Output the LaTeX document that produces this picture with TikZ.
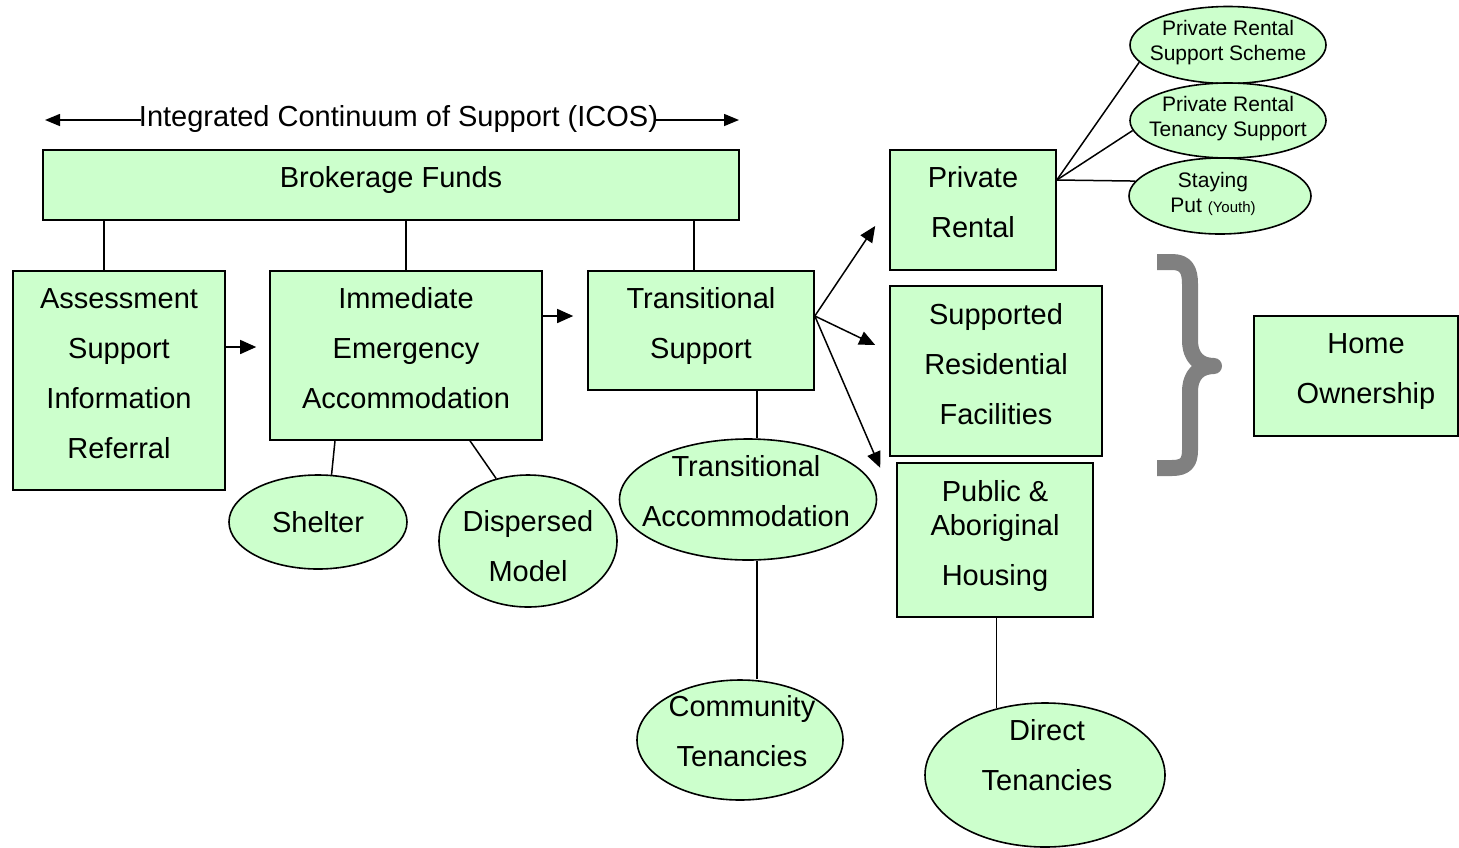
\documentclass[tikz,border=0pt]{standalone}
\usepackage{fontspec}
\setmainfont{Liberation Sans}
\usetikzlibrary{arrows.meta,shapes.geometric,calc}
\definecolor{boxgreen}{RGB}{204,255,204}
\definecolor{bracegray}{RGB}{128,128,128}
\begin{document}
\begin{tikzpicture}[x=1pt,y=-1pt,
  box/.style={draw, fill=boxgreen, line width=1.6pt, rectangle, inner sep=0pt},
  oval/.style={draw, fill=boxgreen, line width=1.6pt, ellipse, inner sep=0pt},
  txt/.style={font=\fontsize{29}{50}\selectfont, align=center, inner sep=0pt},
  smalltxt/.style={font=\fontsize{21}{25}\selectfont, align=center, inner sep=0pt},
  link/.style={line width=1.5pt},
  flow/.style={line width=1.5pt, -{Triangle[length=16pt,width=14pt]}},
]
\useasboundingbox (0,0) rectangle (1459,847);

% heading arrow spanning the continuum, with its title laid over it
\coordinate (icosL) at (45,120);
\coordinate (icosR) at (739,120);
\draw[line width=1.5pt, {Triangle[length=15pt,width=12pt]}-{Triangle[length=15pt,width=12pt]}] (icosL) -- (icosR);
\node[txt, fill=white, inner xsep=-2.5pt, inner ysep=2pt] (icos) at (398.5,119) {Integrated Continuum of Support (ICOS)};

% rectangular stages
\node[box, minimum width=696pt, minimum height=70pt,
      label={[txt,yshift=5pt]center:Brokerage Funds}] (broker) at (391,185) {};
\node[box, minimum width=212pt, minimum height=219pt,
      label={[txt,yshift=6.5pt]center:{Assessment\\Support\\Information\\Referral}}] (assess) at (119,380.5) {};
\node[box, minimum width=272pt, minimum height=169pt,
      label={[txt,yshift=7.5pt]center:{Immediate\\Emergency\\Accommodation}}] (imm) at (406,355.5) {};
\node[box, minimum width=226pt, minimum height=119pt,
      label={[txt,yshift=4.5pt]center:{Transitional\\Support}}] (ts) at (701,330.5) {};
\node[box, minimum width=166pt, minimum height=120pt,
      label={[txt,yshift=8pt]center:{Private\\Rental}}] (pr) at (973,210) {};
\node[box, minimum width=212pt, minimum height=170pt,
      label={[txt,yshift=7pt]center:{Supported\\Residential\\Facilities}}] (sr) at (996,371) {};
\node[box, minimum width=196pt, minimum height=154pt,
      label={[txt,yshift=4pt]center:{Public \&\\[-16pt]Aboriginal\\Housing}}] (pub) at (995,540) {};
\node[box, minimum width=204pt, minimum height=120pt,
      label={[txt,yshift=4pt,xshift=10pt]center:{Home\\Ownership}}] (home) at (1356,376) {};

% oval services
\node[oval, minimum width=178pt, minimum height=94pt,
      label={[txt]center:Shelter}] (shelter) at (318,522) {};
\node[oval, minimum width=178pt, minimum height=132pt,
      label={[txt,yshift=-5.5pt]center:{Dispersed\\Model}}] (disp) at (528,541) {};
\node[oval, minimum width=257pt, minimum height=121pt,
      label={[txt,yshift=8pt,xshift=-2pt]center:{Transitional\\Accommodation}}] (ta) at (748,499.5) {};
\node[oval, minimum width=206pt, minimum height=120pt,
      label={[txt,yshift=9pt,xshift=2pt]center:{Community\\Tenancies}}] (ct) at (740,740) {};
\node[oval, minimum width=240pt, minimum height=144pt,
      label={[txt,yshift=20pt,xshift=2pt]center:{Direct\\Tenancies}}] (dt) at (1045,775) {};
\node[oval, minimum width=196pt, minimum height=77pt,
      label={[smalltxt,yshift=2pt]center:{Private Rental\\Support Scheme}}] (prss) at (1228,45) {};
\node[oval, minimum width=196pt, minimum height=75pt,
      label={[smalltxt,yshift=2pt]center:{Private Rental\\Tenancy Support}}] (prts) at (1228,120.5) {};
\node[oval, minimum width=182pt, minimum height=76pt,
      label={[smalltxt,yshift=2pt,xshift=-7pt]center:{Staying\\Put {\fontsize{15}{18}\selectfont(Youth)}}}] (sp) at (1220,196) {};

% funding drops
\draw[link] ($(assess.north)+(-15,0)$) -- ($(assess.north |- broker.south)+(-15,0)$);
\draw[link] (imm.north) -- (imm.north |- broker.south);
\draw[link] ($(ts.north)+(-7,0)$) -- ($(ts.north |- broker.south)+(-7,0)$);

% pathway arrows
\draw[flow] ($(assess.east)+(0,-33.5)$) -- ($(imm.west |- assess.east)+(-13,-33.5)$);
\draw[flow] ($(imm.east)+(0,-39.5)$) -- ($(ts.west |- imm.east)+(-14,-39.5)$);
\coordinate (fork) at ($(ts.east)+(0,-14.5)$);
\draw[flow] (fork) -- ($(pr.west)+(-14,16)$);
\draw[flow] (fork) -- ($(sr.west)+(-14,-26)$);
\draw[flow] (fork) -- ($(sr.south west)+(-9,11)$);

% service links
\draw[link] ($(imm.south)+(-71,0)$) -- (shelter.74);
\draw[link] ($(imm.south)+(64,0)$) -- (disp.117);
\coordinate (drop) at (757,0);
\draw[link] (ts.south -| drop) -- (ta.north -| drop);
\draw[link] (ta.south -| drop) -- (ct.north -| drop);
\draw[link] (pub.south -| dt.126) -- (dt.126);
\coordinate (prfork) at ($(pr.east)+(0,-30)$);
\draw[link] (prfork) -- (prss.191);
\draw[link] (prfork) -- (prts.186);
\draw[link] (prfork) -- (sp.170);

% grouping brace
\draw[bracegray, line width=16pt, line join=round]
  (1157,262) -- (1172,262) .. controls (1186,262) and (1190,270) .. (1190,284)
  -- (1190,340) .. controls (1190,358) and (1200,366) .. (1214,366)
  .. controls (1200,366) and (1190,374) .. (1190,392)
  -- (1190,450) .. controls (1190,462) and (1186,468) .. (1172,468) -- (1157,468);
\end{tikzpicture}
\end{document}
